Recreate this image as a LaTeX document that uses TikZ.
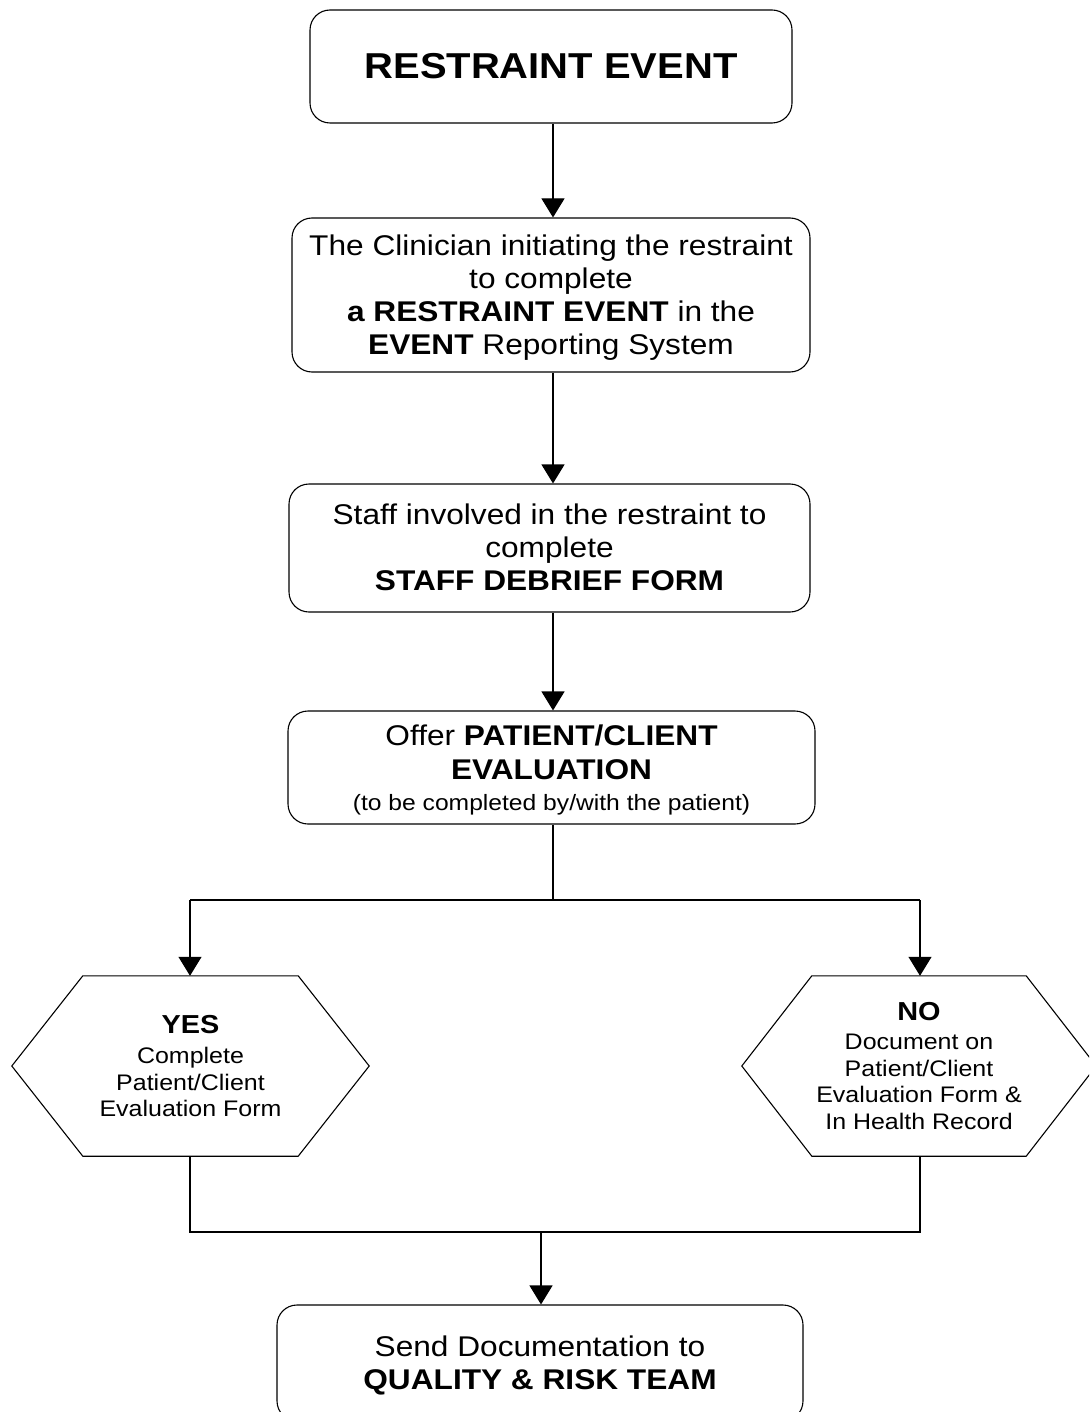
\documentclass[tikz,border=0pt]{standalone}
\usepackage{fontspec}
\setmainfont{Liberation Sans}[FakeStretch=1.11]
\usetikzlibrary{arrows.meta,calc}
\tikzset{
  conn/.style={line width=1.1pt, draw=black},
  arr/.style={conn, -{Triangle[width=23pt,length=19pt]}},
  rbox/.style={draw=black, line width=1.1pt, rounded corners=20pt, align=center, inner sep=0pt},
  hexnode/.style={draw=none, align=center, inner sep=0pt, minimum width=357pt, minimum height=180pt},
  hexline/.style={draw=black, line width=1.1pt},
  boxfont/.style={font=\fontsize{28.5}{33}\selectfont},
  hexfont/.style={font=\fontsize{22.5}{26.5}\selectfont}
}
\begin{document}
\begin{tikzpicture}[x=1pt,y=-1pt]
\useasboundingbox (0,0) rectangle (1089,1412);
\clip (0,0) rectangle (1089,1412);

% boxes
\node[rbox, minimum width=482pt, minimum height=113pt, font=\fontsize{36}{40}\selectfont\bfseries] (b1) at (551,66.5) {RESTRAINT EVENT};
\node[rbox, boxfont, minimum width=518pt, minimum height=154pt, text depth=-1pt] (b2) at (551,295)
 {The Clinician initiating the restraint\\ to complete\\ \textbf{a RESTRAINT EVENT} in the\\ \textbf{EVENT} Reporting System};
\node[rbox, boxfont, minimum width=521pt, minimum height=128pt, text depth=2pt] (b3) at (549.5,548)
 {Staff involved in the restraint to\\ complete\\ \textbf{STAFF DEBRIEF FORM}};
\node[rbox, boxfont, minimum width=527pt, minimum height=113pt, text depth=-5.4pt] (b4) at (551.5,767.5)
 {Offer \textbf{PATIENT/CLIENT}\\[1pt] \textbf{EVALUATION}\\[-2pt] {\fontsize{22.2}{26}\selectfont (to be completed by/with the patient)}};

% hexagons
\node[hexnode, hexfont] (yes) at (190.5,1066)
 {{\fontsize{26}{30}\selectfont\bfseries YES}\\[4pt] Complete\\ Patient/Client\\ Evaluation Form};
\draw[hexline] (yes.west) -- ($(yes.north west)+(71,0)$) -- ($(yes.north east)+(-71,0)$) -- (yes.east)
  -- ($(yes.south east)+(-71,0)$) -- ($(yes.south west)+(71,0)$) -- cycle;

\node[hexnode, hexfont, minimum width=354pt] (no) at (919,1066)
 {{\fontsize{26}{30}\selectfont\bfseries NO}\\[3pt] Document on\\ Patient/Client\\ Evaluation Form \&\\ In Health Record};
\draw[hexline] (no.west) -- ($(no.north west)+(70,0)$) -- ($(no.north east)+(-70,0)$) -- (no.east)
  -- ($(no.south east)+(-70,0)$) -- ($(no.south west)+(70,0)$) -- cycle;

% final box
\node[rbox, boxfont, minimum width=526pt, minimum height=116pt, text depth=-4pt] (b5) at (540,1363)
 {Send Documentation to\\ \textbf{QUALITY \& RISK TEAM}};

% connectors
\draw[arr] (b1.south -| 553,0) -- (b2.north -| 553,0);
\draw[arr] (b2.south -| 553,0) -- (b3.north -| 553,0);
\draw[arr] (b3.south -| 553,0) -- (b4.north -| 553,0);

\coordinate (split) at (553,900);
\coordinate (splitL) at (190,900);
\coordinate (splitR) at (920,900);
\draw[conn] (b4.south -| split) -- (split);
\draw[conn] (splitL) -- (splitR);
\draw[arr] (splitL) -- (splitL |- yes.north);
\draw[arr] (splitR) -- (splitR |- no.north);

\coordinate (joinL) at (190,1232);
\coordinate (joinR) at (920,1232);
\coordinate (join) at (541,1232);
\draw[conn] (yes.south -| joinL) -- (joinL) -- (joinR) -- (no.south -| joinR);
\draw[arr] (join) -- (join |- b5.north);
\end{tikzpicture}
\end{document}
